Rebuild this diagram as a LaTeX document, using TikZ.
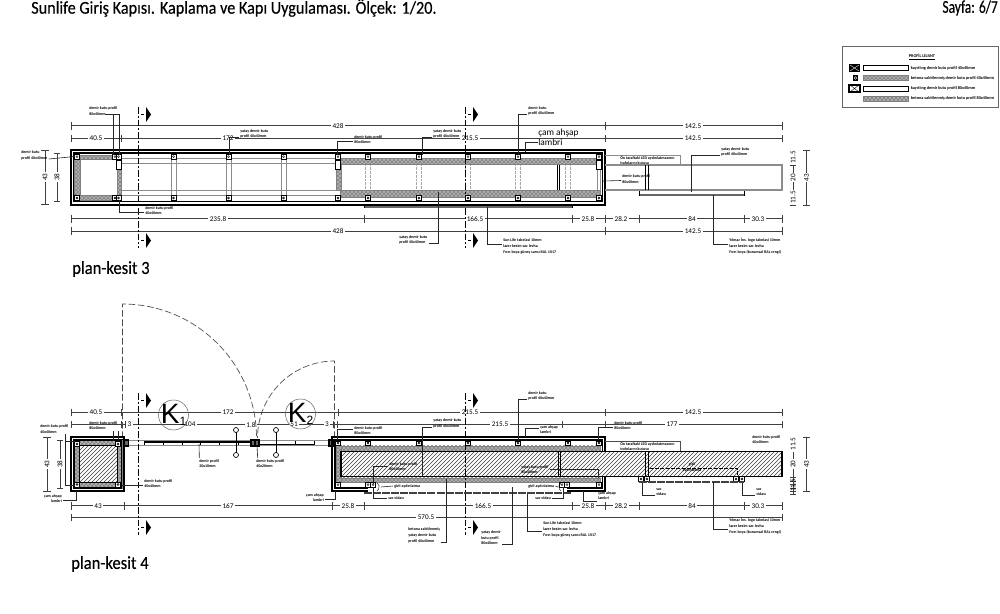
\documentclass[tikz,border=0pt]{standalone}
\usepackage{fontspec}
\setmainfont{Carlito}
\newfontfamily\keyfont{Liberation Sans}
\newfontfamily\titlefont[FakeStretch=0.9,FakeBold=0.3]{Carlito}
\usetikzlibrary{patterns}
\tikzset{
  lbl/.style={anchor=south west,align=left,inner sep=0.75pt,font=\fontsize{3}{4.2}\selectfont\bfseries},
  lblr/.style={lbl,anchor=south east,align=right},
  dimtxt/.style={fill=white,inner sep=1pt,font=\fontsize{5.4}{6}\selectfont},
  dimrot/.style={dimtxt,rotate=90},
  dimline/.style={line width=0.5pt,color=black!75},
  leader/.style={line width=0.45pt,color=black!85},
  frameline/.style={line width=1.5pt,color=black},
  thinline/.style={line width=0.5pt,color=black},
  grayline/.style={line width=0.55pt,color=black!45},
  dottedgray/.style={line width=0.45pt,color=black!35,dash pattern=on 2pt off 0.8pt},
  cutline/.style={line width=0.6pt,dash pattern=on 5pt off 1.5pt on 1.5pt off 1.5pt,color=black},
  doorline/.style={line width=0.5pt,color=black!70,dash pattern=on 5pt off 2pt},
  band/.style={draw=black!50,line width=0.2pt,fill=black!30,postaction={pattern=crosshatch,pattern color=black!50}},
  woodfill/.style={pattern=north east lines,pattern color=black!75},
  profsq/.style={draw=black,line width=0.5pt,fill=white},
  titletxt/.style={anchor=west,inner sep=0pt,font=\titlefont\fontsize{13.5}{16}\selectfont},
  plantxt/.style={anchor=west,inner sep=0pt,font=\titlefont\fontsize{13.8}{16}\selectfont},
  doorkey/.style={circle,draw=black!60,line width=0.4pt,minimum size=22.5pt,inner sep=0pt},
  legendtxt/.style={anchor=west,inner sep=0.5pt,font=\fontsize{3.2}{4}\selectfont\bfseries},
}
\begin{document}
\begin{tikzpicture}[x=0.75pt,y=0.75pt,yscale=-1,xscale=1]
\useasboundingbox (0,0) rectangle (1000,614);

% Text Node
\draw (31,8) node (tTitle) [titletxt] {Sunlife Giriş Kapısı. Kaplama ve Kapı Uygulaması. Ölçek: 1/20.};
% Text Node
\draw (998,8) node (tPage) [titletxt,anchor=east] {\scalebox{0.83}[1]{Sayfa: 6/7}};

%Legend
\draw [line width=0.5pt,color=black!60] (842,46) rectangle (998,107);
\draw (922,57) node (tLegend) [legendtxt,anchor=center] {\underline{PROFİL LEJANT}};
\draw [profsq,line width=0.4pt] (863.5,65.5) rectangle (908,70.5);
\draw [band] (863.5,75.5) rectangle (908,80.5);
\draw [profsq,line width=0.4pt] (863.5,86) rectangle (908,91);
\draw [band] (863.5,96) rectangle (908,101);
\fill (849,64) rectangle (860,72);
\draw [white,line width=0.3pt] (850,65) -- (859,71) (850,71) -- (859,65);
\fill (853,75) rectangle (858,81);
\draw [white,line width=0.3pt] (855.5,78) circle (1.3);
\draw [profsq,line width=0.8pt] (849,85) rectangle (860,92);
\draw [line width=0.3pt] (850,85) -- (859,92) (850,92) -- (859,85);
\draw (910,68) node (tLeg1) [legendtxt] {kayıtlıng demir kutu profil 40x40mm};
\draw (910,78) node (tLeg2) [legendtxt] {betona sabitlenmiş demir kutu profil 40x40mm};
\draw (910,88.5) node (tLeg3) [legendtxt] {kayıtlıng demir kutu profil 80x40mm};
\draw (910,98.5) node (tLeg4) [legendtxt] {betona sabitlenmiş demir kutu profil 80x40mm};

%%%%% plan-kesit 3
%Dimension rows
\draw [dimline] (71,125.7) -- (782,125.7);
\draw [dimline] (71,138) -- (782,138);
\draw [dimline] (71,218.7) -- (782,218.7);
\draw [dimline] (71,231) -- (782,231);
\foreach \x in {71,605,782} \draw [dimline] (\x,122) -- (\x,129.5);
\foreach \x in {71,121.5,605,782} \draw [dimline] (\x,134.5) -- (\x,141.5);
\foreach \x in {71,364,572,605,639.5,744,782} \draw [dimline] (\x,215) -- (\x,222.5);
\foreach \x in {71,605,782} \draw [dimline] (\x,227) -- (\x,235);
\draw (338,125.7) node (d1a) [dimtxt] {428};
\draw (693,125.7) node (d1b) [dimtxt] {142.5};
\draw (96,138) node (d2a) [dimtxt] {40.5};
\draw (228,138) node (d2b) [dimtxt] {172};
\draw (470,138) node (d2c) [dimtxt] {215.5};
\draw (693,138) node (d2d) [dimtxt] {142.5};
\draw (218,218.7) node (d3a) [dimtxt] {235.8};
\draw (475,218.7) node (d3b) [dimtxt] {166.5};
\draw (588,218.7) node (d3c) [dimtxt] {25.8};
\draw (621,218.7) node (d3d) [dimtxt] {28.2};
\draw (692,218.7) node (d3e) [dimtxt] {84};
\draw (758,218.7) node (d3f) [dimtxt] {30.3};
\draw (338,231) node (d4a) [dimtxt] {428};
\draw (693,231) node (d4b) [dimtxt] {142.5};

%Studs and rails
\draw [grayline] (121,158) -- (338,158) (121,163) -- (338,163) (121,190) -- (338,190) (121,195) -- (338,195);
\foreach \x in {173.5,228.5,283.5} \draw [grayline] (\x-2.5,157) -- (\x-2.5,198) (\x+2.5,157) -- (\x+2.5,198);
\foreach \x in {368,419,468,518,568} \draw [dottedgray] (\x-2.5,160) -- (\x-2.5,195) (\x+2.5,160) -- (\x+2.5,195);
\draw [grayline] (597,160) -- (597,196) (600,160) -- (600,196);
\draw [thinline] (557,165) -- (557,190) (559.5,165) -- (559.5,190);

%Left box
\draw [band,even odd rule] (74,155) rectangle (121.5,200) (80,159.5) rectangle (117,195.5);
%Hatched bands
\draw [band] (340,158) rectangle (600,164);
\draw [band] (340,190) rectangle (600,197);
\draw [band] (336,164) rectangle (341,190);

%Frame
\draw [frameline] (71,150) rectangle (605,205);
\draw [line width=1pt] (73.5,153) rectangle (602.5,201.5);

%Profiles
\foreach \x in {77,115,118.5,173.5,228.5,283.5,338,368,419,468,518,568,599} {
  \draw [profsq] (\x-2.5,154.5) rectangle (\x+2.5,159);
  \draw [line width=0.3pt] (\x,156.7) circle (1);
  \draw [profsq] (\x-2.5,195.7) rectangle (\x+2.5,200.2);
  \draw [line width=0.3pt] (\x,198) circle (1);
}
\draw [profsq] (116,160) rectangle (121,169);
\draw [profsq] (335.5,160) rectangle (340.5,169);
\draw [profsq] (596.5,160) rectangle (601.5,169);

%Right rectangle and plate
\draw [grayline,line width=0.8pt] (605,165) -- (782,165) -- (782,190) -- (605,190);
\draw [line width=0.5pt] (645.5,165) -- (645.5,190) (648,165) -- (648,190);
\draw [line width=1.3pt,color=black!60] (639,195) -- (744,195);
\draw [line width=0.4pt] (639,191) -- (639,196) (744,191) -- (744,196);
\draw [line width=1.3pt,color=black!60] (364,207) -- (572,207);
\draw [line width=0.4pt] (364,205) -- (364,208) (572,205) -- (572,208);
\draw [grayline] (605,155) -- (680,155) -- (680,165);

%Cut marks
\foreach \x in {138,465} {
  \draw [cutline] (\x,107) -- (\x,248);
  \fill (\x+8,107) -- (\x+13,114.5) -- (\x+8,122) -- cycle;
  \fill (\x+8,233) -- (\x+13,240.5) -- (\x+8,248) -- cycle;
  \draw [line width=0.3pt] (\x+3,114.5) -- (\x+6,114.5) (\x+3,240.5) -- (\x+6,240.5);
}

%Side dimensions
\draw [dimline] (45,150.7) -- (45,204) (41,150.7) -- (49,150.7) (41,204) -- (49,204);
\draw [dimline] (57,153) -- (57,201) (54,153) -- (60,153) (54,201) -- (60,201);
\draw (45,177) node (dL1) [dimrot] {43};
\draw (57,177) node (dL2) [dimrot] {38};
\draw [dimline] (793,150) -- (793,205);
\foreach \y in {150,165,190,205} \draw [dimline] (790,\y) -- (796,\y);
\draw (793,157.5) node (dR1) [dimrot] {11.5};
\draw (793,177.5) node (dR2) [dimrot] {20};
\draw (793,197.5) node (dR3) [dimrot] {11.5};
\draw [dimline] (806.5,150) -- (806.5,205) (803,150) -- (810,150) (803,205) -- (810,205);
\draw (806.5,177.5) node (dR4) [dimrot] {43};

%Labels and leaders
\draw (20,161) node (t1) [lbl] {demir kutu\\profil 40x40mm};
\draw [leader] ([yshift=-1.5pt]t1.south east) -- (75,156.5);
\draw (88,116.5) node (t2) [lbl] {demir kutu profil\\80x40mm};
\draw [leader] ([yshift=-1.5pt,xshift=-10pt]t2.south east) -| (119,155) (113,114) -- (113,155);
\draw (144,216) node (t3) [lbl] {demir kutu profil\\40x40mm};
\draw [leader] ([yshift=-3pt]t3.south west) -| (119,200);
\draw (239,139.5) node (t4) [lbl] {yatay demir kutu\\profil 40x40mm};
\draw [leader] ([yshift=-1.5pt]t4.south west) -| (229,155);
\draw (353,145) node (t5) [lbl] {demir kutu profil\\80x40mm};
\draw [leader] ([yshift=-3pt]t5.south west) -| (337,155);
\draw (432,139.5) node (t6) [lbl] {yatay demir kutu\\profil 40x40mm};
\draw [leader] ([yshift=-1.5pt]t6.south west) -| (422,155);
\draw (527,116.5) node (t7) [lbl] {demir kutu\\profil 40x40mm};
\draw [leader] ([yshift=-1.5pt]t7.south west) -| (518,155);
\draw (538,146) node (t8) [anchor=south west,inner sep=0pt,align=left,font=\fontsize{7}{7.6}\selectfont] {çam ahşap\\lambri};
\draw [leader] ([yshift=-3pt]t8.south west) -| (525,152);
\draw (398,245.5) node (t9) [lbl] {yatay demir kutu\\profil 40x40mm};
\draw [leader] ([yshift=-1.5pt]t9.south east) -| (438.5,192);
\draw (502,255) node (t10) [lbl] {Sun Life tabelasi 10mm\\lazer kesim sac levha\\Fırın boya güneş sarısı RAL 1017};
\draw [leader] ([yshift=-8pt]t10.south west) -| (487,207);
\draw (619,166) node (t11) [lbl] {Ön taraftaki LED aydınlatmasının\\trafolarını kutusu};
\draw (621,184.5) node (t12) [lbl] {demir kutu profil\\80x40mm};
\draw [leader] ([yshift=-3pt]t12.south west) -- (603,181);
\draw (720,157.5) node (t13) [lbl] {yatay demir kutu\\profil 40x40mm};
\draw [leader] ([yshift=-1.5pt]t13.south west) -| (691,192);
\draw (728,255) node (t14) [lbl] {Yılmaz İns. logo tabelasi 10mm\\lazer kesim sac levha\\Fırın boya (kurumsal RAL rengi)};
\draw [leader] ([yshift=-8pt]t14.south west) -| (713,195);

% Text Node
\draw (72,269) node (tPlan3) [plantxt] {plan-kesit 3};

%%%%% plan-kesit 4
%Dimension rows
\draw [dimline] (71,412) -- (782,412);
\draw [dimline] (71,424.6) -- (782,424.6);
\draw [dimline] (71,505.7) -- (782,505.7);
\draw [dimline] (71,517.6) -- (782,517.6);
\foreach \x in {71,121.5,338,605,782} \draw [dimline] (\x,408.5) -- (\x,415.5);
\foreach \x in {71,121,125,252,256,333,337,562,605,782} \draw [dimline] (\x,421) -- (\x,428);
\foreach \x in {71,124.5,332.5,364,572,605,639.5,744,782} \draw [dimline] (\x,502) -- (\x,509.5);
\foreach \x in {71,782} \draw [dimline] (\x,514) -- (\x,521);
\draw (96,412) node (e1a) [dimtxt] {40.5};
\draw (228,412) node (e1b) [dimtxt] {172};
\draw (470,412) node (e1c) [dimtxt] {215.5};
\draw (693,412) node (e1d) [dimtxt] {142.5};
\draw (129.5,424.6) node (e2a) [dimtxt] {3};
\draw (190,424.6) node (e2b) [dimtxt] {104};
\draw (251,424.6) node (e2c) [dimtxt] {1.8};
\draw (294,424.6) node (e2d) [dimtxt] {51};
\draw (327,424.6) node (e2e) [dimtxt] {3};
\draw (500,424.6) node (e2f) [dimtxt] {215.5};
\draw (672,424.6) node (e2g) [dimtxt] {177};
\draw (98,505.7) node (e3a) [dimtxt] {43};
\draw (228,505.7) node (e3b) [dimtxt] {167};
\draw (348,505.7) node (e3c) [dimtxt] {25.8};
\draw (483,505.7) node (e3d) [dimtxt] {166.5};
\draw (588,505.7) node (e3e) [dimtxt] {25.8};
\draw (621,505.7) node (e3f) [dimtxt] {28.2};
\draw (692,505.7) node (e3g) [dimtxt] {84};
\draw (758,505.7) node (e3h) [dimtxt] {30.3};
\draw (426,517.6) node (e4a) [dimtxt] {570.5};

%Door swings
\draw [doorline] (122.5,438) -- (122.5,304) arc (-90:0:134);
\draw [doorline] (334.5,438) -- (334.5,361) arc (-90:-180:77);

%Door keys
\draw (173.5,415) node (kA) [doorkey] {\makebox[0pt]{\keyfont\fontsize{21}{21}\selectfont K\raisebox{-1pt}{\fontsize{9}{9}\selectfont 1}}};
\draw (300.5,414) node (kB) [doorkey] {\makebox[0pt]{\keyfont\fontsize{21}{21}\selectfont K\raisebox{-1pt}{\fontsize{9}{9}\selectfont 2}}};

%Door leaves
\draw [grayline] (124,440) -- (332,440) (124,445) -- (332,445);
\draw [line width=1.1pt] (144,442) -- (252,442);
\foreach \x in {144,163,182,200,219,238} \draw [line width=0.7pt] (\x,441) -- (\x,445);
\draw [line width=1pt] (258,444.5) -- (314,444.5);
\foreach \x in {258,276,295,314} \draw [line width=0.7pt] (\x,441) -- (\x,445);
\draw [line width=0.7pt] (236,430) -- (236,455) (276,430) -- (276,455);
\foreach \x in {236,276} \foreach \y in {430,455} \draw [line width=0.5pt,fill=white] (\x,\y) circle (2.5);
\foreach \x/\y in {122.5/443,126.5/443,253/443,257/443,331/443,335/443}
  \draw [profsq,fill=black!60,line width=0.8pt] (\x-2,\y-3) rectangle (\x+2,\y+3);

%Left box
\draw [band,even odd rule] (74,440) rectangle (122,488) (79,445) rectangle (117,482);
\draw [woodfill] (79,445) rectangle (117,482);
\draw [frameline] (71,437) rectangle (124,491);
\draw [line width=0.9pt] (74,440) rectangle (121.5,488);
\foreach \x in {77,118} \foreach \y in {444,484.5} {
  \draw [profsq] (\x-2.5,\y-2.5) rectangle (\x+2.5,\y+2.5);
  \draw [line width=0.3pt] (\x,\y) circle (1);
}

%Right body
\draw [band] (338,445.7) rectangle (600,450.7);
\draw [band] (338,477.7) rectangle (600,482.5);
\draw [band] (336,445) rectangle (341,482.5);
\draw [woodfill] (341,451.5) rectangle (782,476.7);
\draw [line width=0.9pt] (341,451.5) -- (782,451.5) -- (782,476.7) -- (341,476.7) -- cycle;
\draw [thinline] (558,451.5) -- (558,476.7) (560,451.5) -- (560,476.7);
\draw [thinline] (645.5,451.5) -- (645.5,476.7) (648,451.5) -- (648,476.7);
\draw [dash pattern=on 3pt off 1pt,line width=0.4pt] (648,477) -- (648,468) -- (737,468) -- (737,477);
%Frame
\draw [frameline] (605,451) -- (605,437) -- (332,437) -- (332,491) -- (368,491);
\draw [frameline] (605,477) -- (605,491) -- (567,491);
\draw [line width=0.8pt] (602.5,451) -- (602.5,440) -- (335,440) -- (335,488) -- (368,488);
\draw [line width=0.8pt] (602.5,477) -- (602.5,488) -- (567,488);

%Profiles
\foreach \x in {338,368,419,468,518,568,599} {
  \draw [profsq] (\x-2.5,441) rectangle (\x+2.5,445.5);
  \draw [line width=0.3pt] (\x,443) circle (1);
}
\foreach \x in {338,368,373,562,567,599} {
  \draw [profsq] (\x-2.5,482.5) rectangle (\x+2.5,487);
  \draw [line width=0.3pt] (\x,484.7) circle (1);
}
\foreach \x in {641,647,736,742} {
  \draw [profsq] (\x-2.5,476.7) rectangle (\x+2.5,481);
  \draw [line width=0.3pt] (\x,479) circle (1);
}
%Hidden light arcs
\draw [line width=0.3pt] (377,483) arc (-60:60:4.5);
\draw [line width=0.3pt] (561,483) arc (240:120:4.5);

%Plates
\draw [line width=1.3pt,dash pattern=on 6pt off 0.8pt,color=black!75] (364,493) -- (572,493);
\draw [line width=1.2pt,dash pattern=on 6pt off 0.8pt,color=black!75] (639,482) -- (744,482);
\draw [grayline,color=black!70] (605,441) -- (680,441) -- (680,451);

%Cut marks
\foreach \x in {138,465} {
  \draw [cutline] (\x,393) -- (\x,535);
  \fill (\x+8,393) -- (\x+13,400.5) -- (\x+8,408) -- cycle;
  \fill (\x+8,520) -- (\x+13,527.5) -- (\x+8,535) -- cycle;
  \draw [line width=0.3pt] (\x+3,400.5) -- (\x+6,400.5) (\x+3,527.5) -- (\x+6,527.5);
}

%Side dimensions
\draw [dimline] (47,437) -- (47,491) (43,437) -- (51,437) (43,491) -- (51,491);
\draw [dimline] (60,440) -- (60,488) (57,440) -- (63,440) (57,488) -- (63,488);
\draw (47,464) node (eL1) [dimrot] {43};
\draw (60,464) node (eL2) [dimrot] {38};
\draw [dimline] (793,437) -- (793,494);
\foreach \y in {437,451,477,481,484,488,491,494} \draw [dimline] (790,\y) -- (796,\y);
\draw (793,444) node (eR1) [dimrot] {11.5};
\draw (793,464) node (eR2) [dimrot] {20};
\draw (793,485.5) node (eR3) [dimrot,fill=none] {11.5};
\draw [dimline] (806.5,437) -- (806.5,491) (803,437) -- (810,437) (803,491) -- (810,491);
\draw (806.5,464) node (eR4) [dimrot] {43};

%Labels and leaders
\draw (39,434.5) node (u1) [lbl] {demir kutu profil\\40x40mm};
\draw [leader] (65.5,434) -- (65.5,485) -- (75,485) (65.5,441) -- (75,441);
\draw (88,431) node (u2) [lbl] {demir kutu profil\\80x40mm};
\draw [leader] (113,431) -- (113,441) (118,431) -- (118,441);
\draw (143,489) node (u3) [lbl] {demir kutu profil\\40x40mm};
\draw [leader] ([yshift=-3pt]u3.south west) -- (122,485);
\draw (63,504) node (u4) [lblr] {çam ahşap\\lambri};
\draw [leader] ([yshift=-3pt]u4.south east) -| (76,491);
\draw (198,469) node (u5) [lbl] {demir profil\\20x10mm};
\draw [leader] ([xshift=1pt]u5.north west) -- (199,444);
\draw (255,469) node (u6) [lbl] {demir kutu profil\\40x20mm};
\draw [leader] ([xshift=2pt]u6.north west) -- (257,445);
\draw (325,503) node (u7) [lblr] {çam ahşap\\lambri};
\draw [leader] ([yshift=-3pt]u7.south east) -| (335,491);
\draw (353,436) node (u8) [lbl] {demir kutu profil\\80x40mm};
\draw [leader] ([yshift=3pt]u8.north west) -| (337,440);
\draw (432,429) node (u9) [lbl] {yatay demir kutu\\profil 40x40mm};
\draw [leader] ([yshift=-1.5pt]u9.south west) -| (422,476);
\draw (527,401.5) node (u10) [lbl] {demir kutu\\profil 40x40mm};
\draw [leader] ([yshift=-1.5pt]u10.south west) -| (518,441);
\draw (539,435) node (u11) [lbl] {çam ahşap\\lambri};
\draw [leader] ([yshift=3pt]u11.north west) -| (525,437);
\draw (613,431) node (u12) [lbl] {demir kutu profil\\80x40mm};
\draw [leader] ([yshift=-3pt]u12.south west) -| (598,440);
\draw (619,452) node (u13) [lbl] {Ön taraftaki LED aydınlatmasının\\trafolarını kutusu};
\draw (388,472) node (u14) [lbl] {demir kutu profil\\80x40mm};
\draw [leader] ([yshift=4pt]u14.north west) -| (373,484);
\draw (520,475) node (u15) [lbl] {yatay kutu profil\\80x40mm};
\draw [leader] ([yshift=4pt]u15.north east) -| (598,478);
\draw (393,489) node (u16) [lbl] {gizli aydınlatma};
\draw [leader] (u16.west) -- (381,487);
\draw (527,489) node (u17) [lbl] {gizli aydınlatma};
\draw [leader] (u17.east) -- (558,487);
\draw (387,501) node (u18) [lbl] {sac vidası};
\draw [leader] (u18.west) -| (373,487);
\draw (534,501) node (u19) [lbl] {sac vidası};
\draw [leader] (u19.east) -| (563,487);
\draw (597,501) node (u20) [lbl] {çam ahşap\\lambri};
\draw [leader] (u20.south west) -| (583,491);
\draw (407,544) node (u21) [lbl] {betona sabitlenmiş\\yatay demir kutu\\profil 40x40mm};
\draw [leader] ([yshift=-1.5pt]u21.south east) -| (446,479);
\draw (480,546) node (u22) [lbl] {yatay demir\\kutu profil\\80x40mm};
\draw [leader] ([yshift=-1.5pt]u22.south east) -| (512,487);
\draw (542,538) node (u23) [lbl] {Sun Life tabelasi 10mm\\lazer kesim sac levha\\Fırın boya güneş sarısı RAL 1017};
\draw [leader] ([yshift=-5pt]u23.south west) -| (527,494);
\draw (751,445) node (u24) [lbl] {demir kutu profil\\40x40mm};
\draw (655,497) node (u25) [lbl] {sac\\vidası};
\draw [leader] ([yshift=-1.5pt]u25.south west) -| (642,483);
\draw (755,497) node (u26) [lbl] {sac\\vidası};
\draw [leader] ([yshift=-1.5pt]u26.south west) -| (742,483);
\draw (728,535) node (u27) [lbl] {Yılmaz İns. logo tabelasi 10mm\\lazer kesim sac levha\\Fırın boya (kurumsal RAL rengi)};
\draw [leader] ([yshift=-4pt]u27.south west) -| (713,482);
\draw (692,473) node (u28) [lbl,anchor=south,align=center] {gizli\\aydınlatma};

% Text Node
\draw (71,564) node (tPlan4) [plantxt] {plan-kesit 4};
\end{tikzpicture}
\end{document}
